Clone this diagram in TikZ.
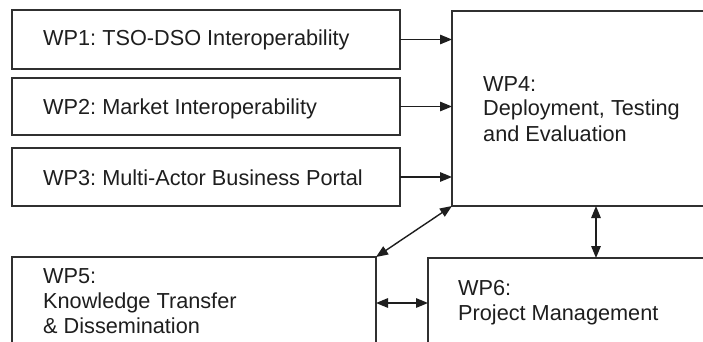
\documentclass[tikz,border=0pt]{standalone}
\usepackage{fontspec}
\setmainfont{Liberation Sans}
\usetikzlibrary{arrows.meta}
\definecolor{ink}{HTML}{1E1E1E}
\definecolor{edge}{HTML}{303030}
\tikzset{
  wpbox/.style={draw=edge, line width=1.6pt, rectangle, inner sep=0pt, outer sep=0pt, fill=white},
  wptext/.style={anchor=base west, inner sep=0pt, text=ink, font=\fontsize{21.7}{25}\selectfont\frenchspacing, align=left},
  link/.style={draw=ink, line width=1.4pt, -{Triangle[length=12pt,width=9.5pt]}},
  duplex/.style={draw=ink, line width=1.4pt, {Triangle[length=12pt,width=9.5pt]}-{Triangle[length=12pt,width=9.5pt]}}
}
\begin{document}
\begin{tikzpicture}[x=1pt,y=-1pt]
\useasboundingbox (0,0) rectangle (703,342);
\clip (0,0) rectangle (703,342);
\fill[white] (0,0) rectangle (703,342);

% work package boxes
\node[wpbox, minimum width=388pt, minimum height=59pt] (wp1) at (206,39.5) {};
\node[wpbox, minimum width=388pt, minimum height=57pt] (wp2) at (206,106.5) {};
\node[wpbox, minimum width=388pt, minimum height=58pt] (wp3) at (206,177) {};
\node[wpbox, minimum width=278pt, minimum height=195pt] (wp4) at (591,108.5) {};
\node[wpbox, minimum width=364pt, minimum height=123pt] (wp5) at (194,318.5) {};
\node[wpbox, minimum width=302pt, minimum height=122pt] (wp6) at (579,319) {};

% labels (multi-line labels are placed by the baseline of their last line)
\node[wptext] (t1) at (43,46) {WP1: TSO-DSO Interoperability};
\node[wptext] (t2) at (43,114) {WP2: Market Interoperability};
\node[wptext] (t3) at (43,185) {WP3: Multi-Actor Business Portal};
\node[wptext] (t4) at (483,141) {WP4:\\Deployment, Testing\\and Evaluation};
\node[wptext] (t5) at (43,333) {WP5:\\Knowledge Transfer\\\& Dissemination};
\node[wptext] (t6) at (458,320) {WP6:\\Project Management};

% flows into WP4
\draw[link] (wp1.east) -- (wp1.east -| wp4.west);
\draw[link] (wp2.east) -- (wp2.east -| wp4.west);
\draw[link] (wp3.east) -- (wp3.east -| wp4.west);

% two-way links
\draw[duplex] (wp4.south west) -- (wp5.north east);
\path (wp4.south west) ++(144,0) coordinate (vtop);
\draw[duplex] (vtop) -- (vtop |- wp6.north);
\coordinate (hleft) at (wp5.east |- 0,303);
\draw[duplex] (hleft) -- (hleft -| wp6.west);
\end{tikzpicture}
\end{document}
